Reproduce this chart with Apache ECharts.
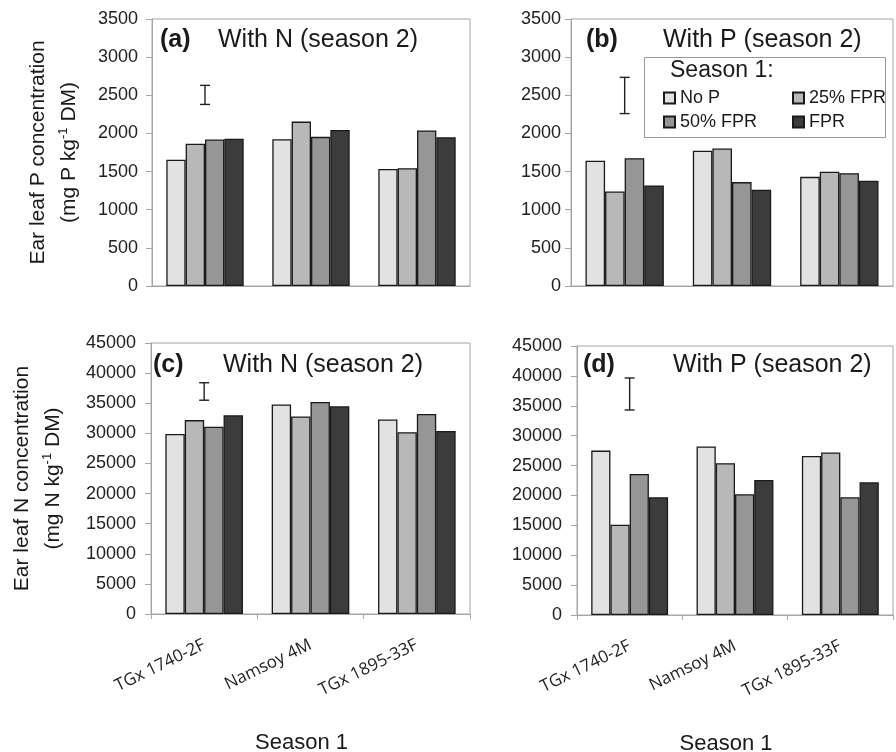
<!DOCTYPE html>
<html>
<head>
<meta charset="utf-8">
<script src="https://cdn.jsdelivr.net/npm/echarts@6.0.0/dist/echarts.min.js"></script>
<style>
html,body{margin:0;padding:0;background:#fff;}
#main{width:896px;height:752px;}
</style>
</head>
<body>
<div id="main"></div>
<script>
// ---- data ----
const categories = ['TGx 1740-2F', 'Namsoy 4M', 'TGx 1895-33F'];
const seriesNames = ['No P', '25% FPR', '50% FPR', 'FPR'];

// (a) Ear leaf P, with N (season 2)
const a_noP = [1655, 1925, 1535];
const a_fpr25 = [1865, 2155, 1545];
const a_fpr50 = [1920, 1955, 2040];
const a_fpr = [1930, 2045, 1950];
const a_err = [2380, 2630];

// (b) Ear leaf P, with P (season 2)
const b_noP = [1641, 1772, 1431];
const b_fpr25 = [1239, 1802, 1497];
const b_fpr50 = [1676, 1362, 1479];
const b_fpr = [1318, 1261, 1379];
const b_err = [2260, 2735];

// (c) Ear leaf N, with N (season 2)
const c_noP = [29900, 34800, 32300];
const c_fpr25 = [32200, 32800, 30200];
const c_fpr50 = [31100, 35200, 33200];
const c_fpr = [33000, 34500, 30400];
const c_err = [35500, 38400];

// (d) Ear leaf N, with P (season 2)
const d_noP = [27500, 28200, 26600];
const d_fpr25 = [15100, 25400, 27200];
const d_fpr50 = [23600, 20200, 19700];
const d_fpr = [19700, 22600, 22200];
const d_err = [34300, 39650];

const yTopP = 3500, yStepP = 500;
const yTopN = 45000, yStepN = 5000;

const panelLabels = ['(a)', '(b)', '(c)', '(d)'];
const panelTitles = ['With N (season 2)', 'With P (season 2)', 'With N (season 2)', 'With P (season 2)'];
const yNameP = '{l1|Ear leaf P concentration}\n{l2|(mg P kg}{sup|-1}{l2| DM)}';
const yNameN = '{l1|Ear leaf N concentration}\n{l2|(mg N kg}{sup|-1}{l2| DM)}';
const xName = 'Season 1';
const legendTitle = 'Season 1:';

// ---- styles / layout ----
const FONT = '"Liberation Sans", Arial, sans-serif';
const TXT = '#1a1a1a';
const AX = '#a6a6a6';
const fills = ['#e2e2e2', '#b8b8b8', '#969696', '#3c3c3c'];

const panels = [
  {data: [a_noP, a_fpr25, a_fpr50, a_fpr], err: a_err, max: yTopP, step: yStepP,
   grid: {left: 152, top: 19, width: 318, height: 267}, bottomAxis: false, yName: yNameP, yGap: 67, labMargin: 14},
  {data: [b_noP, b_fpr25, b_fpr50, b_fpr], err: b_err, max: yTopP, step: yStepP,
   grid: {left: 571, top: 19, width: 322, height: 267}, bottomAxis: false, yName: '', yGap: 0, labMargin: 10},
  {data: [c_noP, c_fpr25, c_fpr50, c_fpr], err: c_err, max: yTopN, step: yStepN,
   grid: {left: 151, top: 343, width: 319, height: 271}, bottomAxis: true, yName: yNameN, yGap: 82, labMargin: 15},
  {data: [d_noP, d_fpr25, d_fpr50, d_fpr], err: d_err, max: yTopN, step: yStepN,
   grid: {left: 577, top: 346, width: 316, height: 269}, bottomAxis: true, yName: '', yGap: 0, labMargin: 15}
];
const titlePos = [
  {lx: 160, tx: 218, y: 41},
  {lx: 586, tx: 663, y: 41},
  {lx: 153, tx: 223, y: 366},
  {lx: 583, tx: 673, y: 366}
];

const grids = [], xAxes = [], yAxes = [], series = [], graphics = [];

panels.forEach((p, i) => {
  grids.push(Object.assign({show: true, borderColor: AX, borderWidth: 1, backgroundColor: 'transparent',
    containLabel: false, outerBoundsMode: 'none'}, p.grid));
  xAxes.push({
    type: 'category', gridIndex: i, data: categories,
    axisLine: {show: true, lineStyle: {color: AX, width: 1}},
    axisTick: {show: p.bottomAxis, length: 5, inside: false, alignWithLabel: false, lineStyle: {color: AX}},
    axisLabel: {show: p.bottomAxis, rotate: 26, margin: 30, fontSize: 17, fontFamily: '"Open Sans", sans-serif', color: '#222'},
    splitLine: {show: false},
    name: p.bottomAxis ? xName : '',
    nameLocation: 'middle', nameGap: 118,
    nameTextStyle: {fontSize: 22, fontFamily: FONT, color: TXT, padding: [0, 18, 0, 0]}
  });
  yAxes.push({
    type: 'value', gridIndex: i, min: 0, max: p.max, interval: p.step,
    axisLine: {show: true, lineStyle: {color: AX, width: 1}},
    axisTick: {show: true, inside: false, length: 6, lineStyle: {color: AX}},
    axisLabel: {fontSize: 18, fontFamily: FONT, color: '#222', margin: p.labMargin,
      formatter: v => String(v)},
    splitLine: {show: false},
    name: p.yName, nameLocation: 'middle', nameRotate: 90, nameGap: p.yGap,
    nameTextStyle: {
      fontFamily: FONT, color: TXT,
      rich: {
        l1: {fontSize: 21, lineHeight: 31, fontFamily: FONT, color: TXT},
        l2: {fontSize: 21, lineHeight: 31, fontFamily: FONT, color: TXT},
        sup: {fontSize: 13, fontFamily: FONT, color: TXT, padding: [0, 0, 12, 0]}
      }
    }
  });
  p.data.forEach((vals, s) => {
    series.push({
      type: 'bar', name: seriesNames[s], xAxisIndex: i, yAxisIndex: i, data: vals,
      barGap: '0%', barCategoryGap: '27%',
      itemStyle: {color: fills[s], borderColor: '#1a1a1a', borderWidth: 1.3},
      emphasis: {disabled: true}
    });
  });
  series.push({
    type: 'custom', name: 'lsd' + i, xAxisIndex: i, yAxisIndex: i,
    data: [[0, p.err[0], p.err[1]]],
    renderItem: function (params, api) {
      const lo = api.coord([api.value(0), api.value(1)]);
      const hi = api.coord([api.value(0), api.value(2)]);
      const cap = 5;
      const st = {stroke: '#222', lineWidth: 1.4};
      return {type: 'group', children: [
        {type: 'line', shape: {x1: lo[0], y1: lo[1], x2: hi[0], y2: hi[1]}, style: st},
        {type: 'line', shape: {x1: lo[0] - cap, y1: lo[1], x2: lo[0] + cap, y2: lo[1]}, style: st},
        {type: 'line', shape: {x1: hi[0] - cap, y1: hi[1], x2: hi[0] + cap, y2: hi[1]}, style: st}
      ]};
    }
  });
  const tp = titlePos[i];
  graphics.push({type: 'text', left: tp.lx, top: tp.y - 13, style: {text: panelLabels[i], font: 'bold 25px ' + FONT, fill: TXT}});
  graphics.push({type: 'text', left: tp.tx, top: tp.y - 13, style: {text: panelTitles[i], font: '25px ' + FONT, fill: TXT}});
});

// legend box and heading inside panel (b)
graphics.push({type: 'rect', left: 644, top: 57, shape: {width: 241, height: 80}, style: {fill: '#fff', stroke: '#999', lineWidth: 1}, z: 5});
graphics.push({type: 'text', left: 670, top: 59, style: {text: legendTitle, font: '23px ' + FONT, fill: TXT}, z: 6});

const legendCommon = {
  orient: 'vertical', padding: 0, itemWidth: 11, itemHeight: 11, itemGap: 6,
  icon: 'rect', selectedMode: false, z: 10,
  textStyle: {fontSize: 18, fontFamily: FONT, color: TXT}
};

const option = {
  animation: false,
  backgroundColor: '#fff',
  textStyle: {fontFamily: FONT},
  grid: grids,
  xAxis: xAxes,
  yAxis: yAxes,
  series: series,
  graphic: graphics,
  legend: [
    Object.assign({left: 663, top: 89, data: ['No P', '50% FPR']}, legendCommon),
    Object.assign({left: 792, top: 89, data: ['25% FPR', 'FPR']}, legendCommon)
  ],
  tooltip: {show: false}
};

const chart = echarts.init(document.getElementById('main'), null, {renderer: 'canvas'});
chart.setOption(option);
</script>
</body>
</html>
